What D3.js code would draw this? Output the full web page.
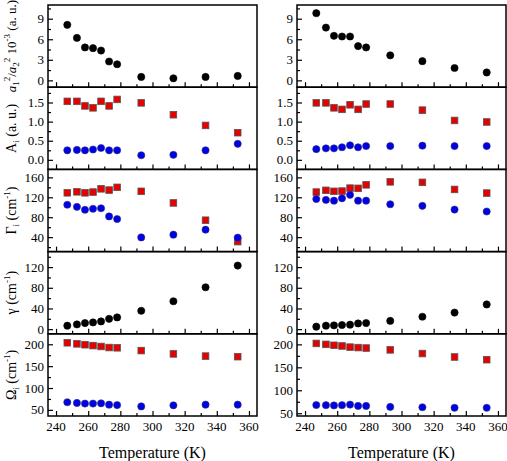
<!DOCTYPE html>
<html><head><meta charset="utf-8">
<script src="https://cdn.jsdelivr.net/npm/d3@7"></script>
<style>
body{margin:0;background:#fff;}
svg{display:block;}
svg text{font-family:"Liberation Serif","Times New Roman","DejaVu Serif",serif;}
</style></head>
<body><svg id="c" width="507" height="461" font-family="Liberation Serif, DejaVu Serif, serif"></svg>
<script>
const temps = [247,253,258,263,268,273,278,293,313,333,353];
const xTicks = [240,260,280,300,320,340,360];

const ratioL = [8.1,6.2,4.8,4.7,4.35,2.75,2.35,0.5,0.3,0.5,0.65];
const ratioR = [9.8,7.7,6.5,6.4,6.4,5.0,4.8,3.65,2.8,1.8,1.15];
const ampRedL = [1.53,1.53,1.41,1.36,1.53,1.41,1.58,1.49,1.18,0.90,0.71];
const ampBlueL = [0.25,0.26,0.25,0.27,0.31,0.25,0.25,0.12,0.13,0.25,0.42];
const ampRedR = [1.49,1.49,1.36,1.32,1.44,1.32,1.46,1.46,1.30,1.03,0.99];
const ampBlueR = [0.28,0.30,0.30,0.33,0.38,0.33,0.36,0.36,0.37,0.36,0.36];
const widRedL = [129,131,129,130.5,137,134.5,140,132,108.7,74,31];
const widBlueL = [105,100.8,95,97,98,81.6,76.4,39.5,45,55,39];
const widRedR = [130.5,134,132,132.5,138.4,138,145,151,150,135.8,128.5];
const widBlueR = [116.6,114.7,113.3,118,125,113.3,113.3,106,102.8,95.4,91.5];
const gammaL = [6.7,9.2,11.8,13,15,20,22.7,35.5,54,81,123];
const gammaR = [4.8,6.7,7.3,8,8.6,11,11.8,16,24,32,47.8];
const freqRedL = [203.5,201,199,197,195,192.6,192,185.6,178,173,171.7];
const freqBlueL = [67.4,65.8,64.4,64.4,65,62,61,58,60.4,62,62];
const freqRedR = [202,200,198,196.5,194,193,192,188,180,172.5,166.6];
const freqBlueR = [68,67.5,67,67.5,68.8,66,66,63.8,63,62,62];

const ticks1 = [0,3,6,9];
const ticks2 = [0,0.5,1.0,1.5];
const ticks3 = [40,80,120,160];
const ticks4 = [0,40,80,120];
const ticks5 = [50,100,150,200];

const svg = d3.select("#c");
const cols = [{x0:48,x1:257},{x0:297,x1:506}];
const top0 = 5, bottom0 = 416, nRows = 5;
const rowH = (bottom0-top0)/nRows;

const rows = [
 {dom:[[-1,11],[-1,11]], ticks:ticks1, minor:1.5, fmt:d3.format("d"),
  L:[[ratioL,"k"]], R:[[ratioR,"k"]]},
 {dom:[[-0.25,1.9],[-0.25,1.9]], ticks:ticks2, minor:0.25, fmt:d3.format(".1f"),
  L:[[ampRedL,"r"],[ampBlueL,"b"]], R:[[ampRedR,"r"],[ampBlueR,"b"]]},
 {dom:[[11,176],[11,176]], ticks:ticks3, minor:20, fmt:d3.format("d"),
  L:[[widRedL,"r"],[widBlueL,"b"]], R:[[widRedR,"r"],[widBlueR,"b"]]},
 {dom:[[-9,150],[-9,150]], ticks:ticks4, minor:20, fmt:d3.format("d"),
  L:[[gammaL,"k"]], R:[[gammaR,"k"]]},
 {dom:[[36,224],[44,223]], ticks:ticks5, minor:25, fmt:d3.format("d"),
  L:[[freqRedL,"r"],[freqBlueL,"b"]], R:[[freqRedR,"r"],[freqBlueR,"b"]]},
];

cols.forEach((c,ci)=>{
  const x = d3.scaleLinear().domain([235,365]).range([c.x0,c.x1]);
  rows.forEach((r,ri)=>{
    const yt = top0 + ri*rowH, yb = yt + rowH;
    const dom = r.dom[ci];
    const y = d3.scaleLinear().domain(dom).range([yb,yt]);
    const g = svg.append("g");
    const styleAx = s=>{s.select(".domain").remove(); s.selectAll("line").attr("stroke","#000").attr("stroke-width",1.2);};
    const xa = d3.axisTop(x).tickValues(xTicks).tickSize(5).tickFormat("");
    g.append("g").attr("transform",`translate(0,${yb})`).call(xa).call(styleAx);
    const xm = d3.axisTop(x).tickValues(d3.range(250,361,20)).tickSize(3).tickFormat("");
    g.append("g").attr("transform",`translate(0,${yb})`).call(xm).call(styleAx);
    const ya = d3.axisRight(y).tickValues(r.ticks).tickSize(5).tickFormat("");
    g.append("g").attr("transform",`translate(${c.x0},0)`).call(ya).call(styleAx);
    const minors = [];
    for(let v=Math.ceil(dom[0]/r.minor)*r.minor; v<=dom[1]+1e-9; v+=r.minor){
      const isMajor = r.ticks.some(t=>Math.abs(t-v)<1e-6);
      if(!isMajor && v>dom[0]+1e-9 && v<dom[1]-1e-9) minors.push(+v.toFixed(4));
    }
    const ym = d3.axisRight(y).tickValues(minors).tickSize(3).tickFormat("");
    g.append("g").attr("transform",`translate(${c.x0},0)`).call(ym).call(styleAx);
    g.selectAll("text.yl").data(r.ticks).join("text").attr("class","yl")
      .attr("x",c.x0-4).attr("y",d=>y(d)).attr("dy","0.35em")
      .attr("text-anchor","end").attr("font-size",13).text(r.fmt);
    const clipId = `clip${ci}${ri}`;
    svg.append("clipPath").attr("id",clipId).append("rect")
      .attr("x",c.x0).attr("y",yt).attr("width",c.x1-c.x0).attr("height",rowH);
    const dg = g.append("g").attr("clip-path",`url(#${clipId})`);
    r[ci===0?"L":"R"].forEach(([vals,kind])=>{
      if(kind==="r"){
        dg.selectAll(null).data(vals).join("rect")
          .attr("x",(d,i)=>x(temps[i])-3.3).attr("y",d=>y(d)-3.3)
          .attr("width",6.6).attr("height",6.6)
          .attr("fill","#e60000").attr("stroke","#555").attr("stroke-width",0.8);
      } else {
        dg.selectAll(null).data(vals).join("circle")
          .attr("cx",(d,i)=>x(temps[i])).attr("cy",d=>y(d)).attr("r",3.6)
          .attr("fill",kind==="k"?"#000":"#0000e6")
          .attr("stroke",kind==="k"?"#000":"#33337a").attr("stroke-width",0.6);
      }
    });
    g.append("rect").attr("x",c.x0).attr("y",yt).attr("width",c.x1-c.x0).attr("height",rowH)
      .attr("fill","none").attr("stroke","#000").attr("stroke-width",1.5);
  });
  svg.append("g").selectAll("text").data(xTicks).join("text")
    .attr("x",d=>x(d)).attr("y",431).attr("text-anchor","middle").attr("font-size",13)
    .text(d=>d);
  svg.append("text").attr("x",(c.x0+c.x1)/2).attr("y",458).attr("text-anchor","middle")
    .attr("font-size",16).text("Temperature (K)");
});

function ylabel(ri, build){
  const cy = top0 + ri*rowH + rowH/2;
  const t = svg.append("text").attr("transform",`translate(16,${cy}) rotate(-90)`)
    .attr("text-anchor","middle").attr("font-size",14);
  build(t);
}
ylabel(0,t=>{
  t.attr("font-size",13);
  t.append("tspan").attr("font-style","italic").text("a");
  t.append("tspan").attr("font-size",9).attr("dy",3).text("1");
  t.append("tspan").attr("font-size",9).attr("dy",-9).text("2");
  t.append("tspan").attr("dy",6).text("/");
  t.append("tspan").attr("font-style","italic").text("a");
  t.append("tspan").attr("font-size",9).attr("dy",3).text("2");
  t.append("tspan").attr("font-size",9).attr("dy",-9).text("2");
  t.append("tspan").attr("dy",6).text(" 10");
  t.append("tspan").attr("font-size",9).attr("dy",-6).text("-3");
  t.append("tspan").attr("dy",6).text(" (a. u.)");
});
ylabel(1,t=>{
  t.append("tspan").text("A");
  t.append("tspan").attr("font-size",9).attr("dy",3).text("i");
  t.append("tspan").attr("dy",-3).text(" (a. u.)");
});
ylabel(2,t=>{
  t.append("tspan").text("Γ");
  t.append("tspan").attr("font-size",9).attr("dy",3).text("i");
  t.append("tspan").attr("dy",-3).text(" (cm");
  t.append("tspan").attr("font-size",9).attr("dy",-6).text("-1");
  t.append("tspan").attr("dy",6).text(")");
});
ylabel(3,t=>{
  t.append("tspan").text("γ (cm");
  t.append("tspan").attr("font-size",9).attr("dy",-6).text("-1");
  t.append("tspan").attr("dy",6).text(")");
});
ylabel(4,t=>{
  t.append("tspan").text("Ω");
  t.append("tspan").attr("font-size",9).attr("dy",3).text("i");
  t.append("tspan").attr("dy",-3).text(" (cm");
  t.append("tspan").attr("font-size",9).attr("dy",-6).text("-1");
  t.append("tspan").attr("dy",6).text(")");
});
</script></body></html>
